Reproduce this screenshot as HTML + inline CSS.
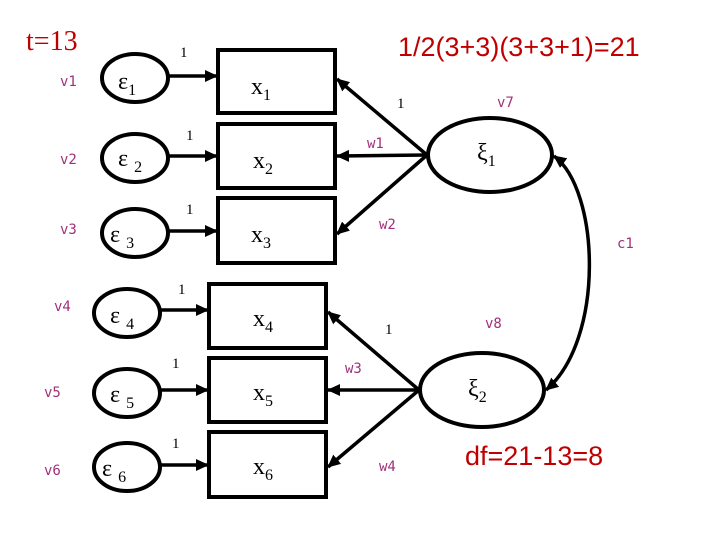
<!DOCTYPE html>
<html><head><style>body{margin:0;background:#fff}svg{display:block}</style></head><body>
<svg width="720" height="540" viewBox="0 0 720 540" xmlns="http://www.w3.org/2000/svg" font-family="Liberation Serif, serif">
<defs><marker id="a" markerWidth="14" markerHeight="12" refX="12" refY="6" orient="auto-start-reverse" markerUnits="userSpaceOnUse"><path d="M0,0 L13,6 L0,12 z" fill="#000"/></marker></defs>
<g fill="none" stroke="#000" stroke-width="4">
<rect x="218" y="50" width="117" height="63"/><rect x="218" y="124" width="117" height="64"/><rect x="218" y="198" width="117" height="65"/>
<rect x="209" y="284" width="117" height="64"/><rect x="209" y="358" width="117" height="64"/><rect x="209" y="432" width="117" height="65"/>
<ellipse cx="135" cy="78" rx="33" ry="24"/><ellipse cx="135" cy="158" rx="33" ry="24"/><ellipse cx="135" cy="233" rx="33" ry="24"/>
<ellipse cx="127" cy="313" rx="33" ry="24"/><ellipse cx="127" cy="393" rx="33" ry="24"/><ellipse cx="127" cy="467" rx="33" ry="24"/>
<ellipse cx="490" cy="155" rx="62" ry="37"/><ellipse cx="482" cy="390" rx="62" ry="37"/>
</g>
<g stroke="#000" stroke-width="3.5" marker-end="url(#a)">
<line x1="168" y1="76" x2="217" y2="76"/><line x1="168" y1="156" x2="217" y2="156"/><line x1="168" y1="231" x2="217" y2="231"/>
<line x1="160" y1="310" x2="208" y2="310"/><line x1="160" y1="390" x2="208" y2="390"/><line x1="160" y1="465" x2="208" y2="465"/>
<line x1="427" y1="155" x2="337" y2="79"/><line x1="427" y1="155" x2="337" y2="156"/><line x1="427" y1="155" x2="337" y2="234"/>
<line x1="419" y1="390" x2="328" y2="312"/><line x1="419" y1="390" x2="328" y2="390"/><line x1="419" y1="390" x2="328" y2="467"/>
</g>
<path d="M554,156 C600,190 605,340 546,390" fill="none" stroke="#000" stroke-width="3.5" marker-start="url(#a)" marker-end="url(#a)"/>
<text x="26" y="50" font-size="28" fill="#c00000">t=13</text>
<g font-size="27" fill="#c00000" font-family="Liberation Sans, sans-serif"><text x="398" y="56">1/2(3+3)(3+3+1)=21</text><text x="465" y="465">df=21-13=8</text></g>
<g font-size="24" fill="#000">
<text x="118" y="89">ε<tspan font-size="16" dy="6">1</tspan></text><text x="118" y="166">ε <tspan font-size="16" dy="6">2</tspan></text><text x="110" y="242">ε <tspan font-size="16" dy="6">3</tspan></text>
<text x="110" y="323">ε <tspan font-size="16" dy="6">4</tspan></text><text x="110" y="402">ε <tspan font-size="16" dy="6">5</tspan></text><text x="102" y="476">ε <tspan font-size="16" dy="6">6</tspan></text>
<text x="251" y="94">x<tspan font-size="16" dy="6">1</tspan></text><text x="253" y="168">x<tspan font-size="16" dy="6">2</tspan></text><text x="251" y="242">x<tspan font-size="16" dy="6">3</tspan></text>
<text x="253" y="326">x<tspan font-size="16" dy="6">4</tspan></text><text x="253" y="400">x<tspan font-size="16" dy="6">5</tspan></text><text x="253" y="474">x<tspan font-size="16" dy="6">6</tspan></text>
<text x="477" y="160">ξ<tspan font-size="16" dy="6">1</tspan></text><text x="468" y="396">ξ<tspan font-size="16" dy="6">2</tspan></text>
</g>
<g font-size="15" fill="#000">
<text x="180" y="57">1</text><text x="186" y="140">1</text><text x="186" y="214">1</text><text x="178" y="294">1</text><text x="172" y="368">1</text><text x="172" y="448">1</text>
<text x="397" y="108">1</text><text x="385" y="334">1</text>
</g>
<g font-size="14" fill="#a0307a" font-family="DejaVu Sans Mono, monospace">
<text x="60" y="86">v1</text><text x="60" y="164">v2</text><text x="60" y="234">v3</text><text x="54" y="311">v4</text><text x="44" y="397">v5</text><text x="44" y="475">v6</text>
<text x="497" y="107">v7</text><text x="485" y="328">v8</text><text x="617" y="248">c1</text>
<text x="367" y="148">w1</text><text x="379" y="229">w2</text><text x="345" y="373">w3</text><text x="379" y="471">w4</text>
</g>
</svg>
</body></html>
